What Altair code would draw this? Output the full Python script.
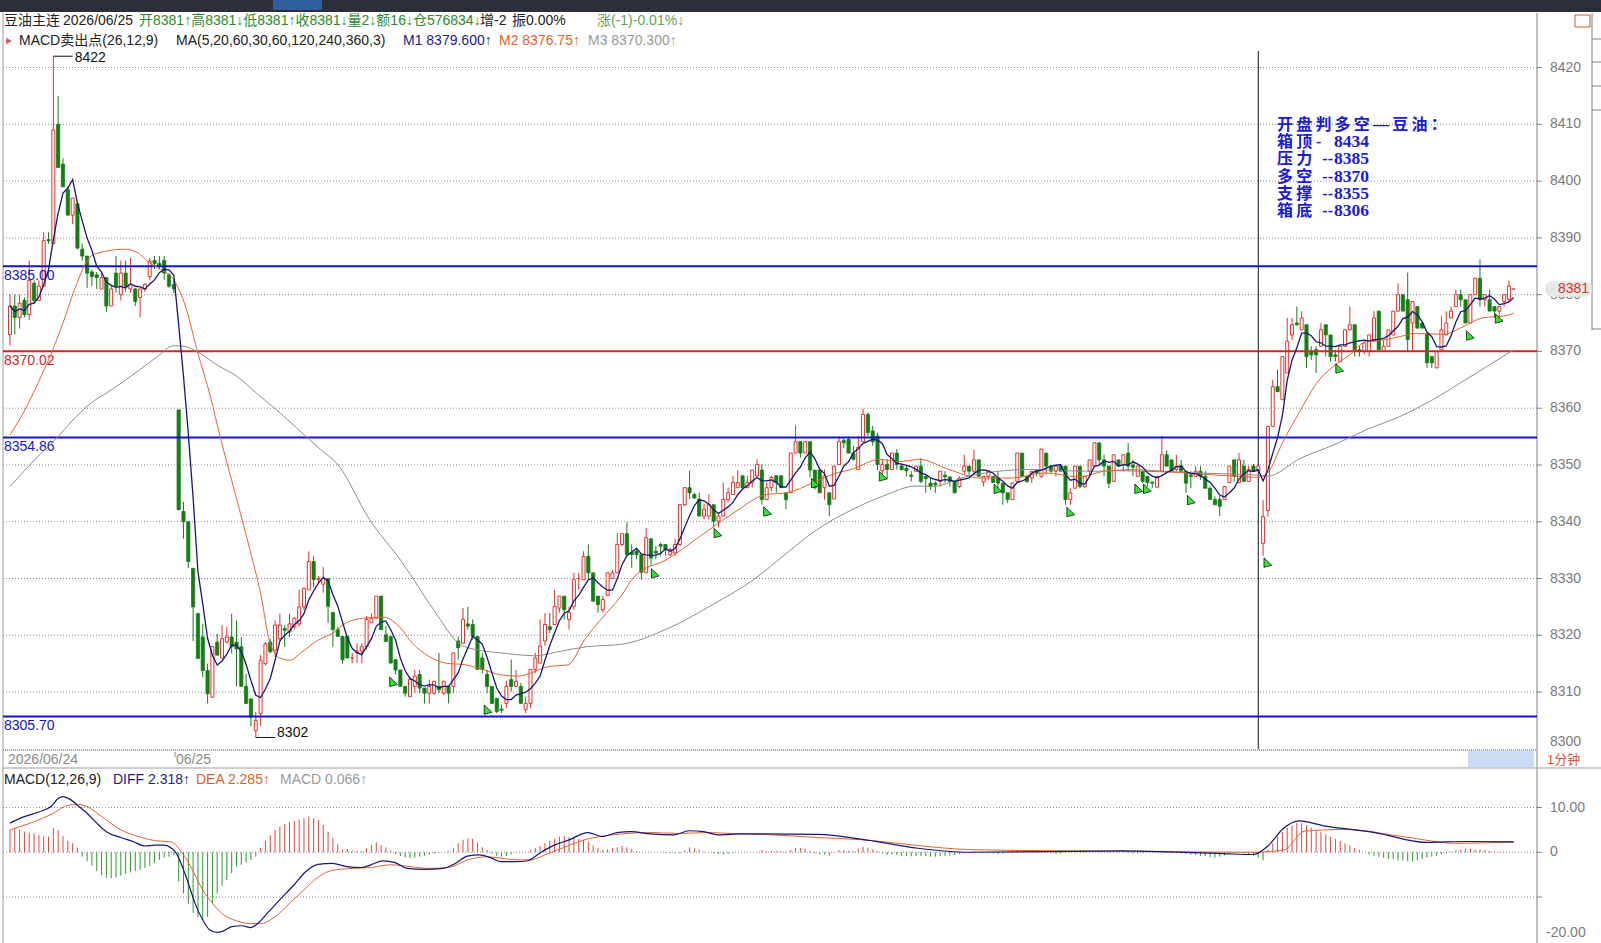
import altair as alt
import pandas as pd

SANS = "Liberation Sans, Noto Sans CJK SC"
SERIF = "Liberation Serif, Noto Sans CJK SC"
W, H = 1601, 943
RED = "#e5302a"
GREEN = "#157d15"

# ---------------- candle data (1-minute bars, index 0..312) ----------------
opens = [
    8373, 8378, 8376, 8379, 8376.5, 8382, 8379, 8381.5, 8389.7, 8389,
    8410, 8403, 8398.5, 8394, 8396, 8388, 8386.8, 8384, 8383.5, 8381,
    8383, 8378, 8383.8, 8380, 8383.8, 8381, 8381, 8379.5, 8381, 8383.2,
    8386, 8385.5, 8386, 8383.5, 8381.8, 8359.7, 8341.8, 8340, 8331.8, 8323.8,
    8319.7, 8313.8, 8309.1, 8318.8, 8316, 8318.8, 8319.7, 8318.8, 8318, 8311,
    8308.8, 8303.2, 8306.2, 8315, 8318.8, 8317.4, 8319.4, 8321.2, 8320.6, 8321.5,
    8322, 8325, 8328, 8333, 8329.8, 8329, 8330, 8324, 8321, 8319.8,
    8319.8, 8316, 8317, 8317.2, 8318, 8322.2, 8323, 8326.9, 8320.1, 8319.8,
    8315.7, 8313.9, 8311, 8309.2, 8311, 8313.1, 8310.7, 8309.8, 8309.8, 8311,
    8309.8, 8311, 8311, 8319, 8318.6, 8322, 8321.9, 8319.8, 8316, 8313.1,
    8311, 8308.9, 8307, 8308, 8312.2, 8311, 8311, 8306.9, 8308, 8314,
    8315.1, 8319, 8321.5, 8321.9, 8324.8, 8326.9, 8322.8, 8325.1, 8330, 8329.8,
    8333.9, 8331, 8326.9, 8324.5, 8327, 8330, 8331, 8336, 8337.9, 8334.6,
    8334.8, 8334.2, 8331, 8337, 8334.8, 8336, 8336, 8334.2, 8334.5, 8336,
    8343, 8346, 8344.8, 8344, 8341, 8341, 8343, 8340.1, 8341, 8343.9,
    8344.8, 8346, 8348.1, 8346, 8346.9, 8348.1, 8349.1, 8343.9, 8346, 8348.1,
    8348.1, 8345.1, 8345.1, 8352.1, 8354.1, 8352.1, 8354.1, 8349.1, 8349.1, 8346,
    8345.1, 8344, 8350.1, 8354.3, 8354.5, 8352.1, 8349.2, 8354.1, 8358.9, 8356,
    8355.1, 8349, 8350.1, 8349.2, 8352.1, 8349.8, 8349.4, 8348.2, 8348.9, 8349.8,
    8348, 8346.8, 8346.8, 8347.1, 8348.2, 8347.9, 8347.1, 8346.2, 8348.9, 8349.8,
    8348.9, 8350.9, 8347, 8348, 8348, 8347.7, 8346.8, 8345.1, 8343.9, 8347.1,
    8352.1, 8348, 8347.7, 8349, 8348, 8352.1, 8349.8, 8348.9, 8349.8, 8349.8,
    8343.9, 8345.9, 8349.8, 8346.2, 8348.9, 8349.8, 8353.9, 8350.9, 8349.8, 8347.1,
    8350.9, 8350.1, 8352.1, 8350, 8348, 8348.9, 8348, 8347, 8346.1, 8348.9,
    8351.8, 8350.9, 8349.2, 8349.8, 8348.9, 8348.2, 8348, 8348.9, 8348, 8345.9,
    8343.9, 8343.9, 8343.9, 8346.9, 8350.9, 8346.9, 8349.8, 8347.1, 8349.8, 8348.9,
    8336.2, 8342, 8356.8, 8363.8, 8361.5, 8366.2, 8372.9, 8375, 8373.8, 8374.7,
    8370, 8370.3, 8370.9, 8374.7, 8372.9, 8369.4, 8368.2, 8370.9, 8373.8, 8374.7,
    8370.3, 8370, 8370, 8371.8, 8377.1, 8370, 8370.9, 8372.9, 8377.1, 8380,
    8379.1, 8375, 8377.9, 8375, 8373.2, 8369.1, 8367.1, 8370.3, 8372.9, 8375.9,
    8377.9, 8380, 8379.1, 8375, 8380, 8382.9, 8379.1, 8379.1, 8377.9, 8377.1,
    8378.8, 8379.2, 8381,
]
highs = [
    8380, 8380, 8380, 8379.5, 8386, 8382.5, 8382.5, 8391, 8391, 8422,
    8415, 8404, 8399, 8397, 8396, 8389, 8386.8, 8384.4, 8384, 8383.8,
    8383, 8381.8, 8386.8, 8386, 8386, 8386.5, 8381.2, 8381, 8382, 8386.5,
    8386.8, 8386.8, 8386.8, 8383.8, 8382.6, 8359.7, 8343.5, 8340, 8331.8, 8324,
    8322, 8315, 8318, 8320.3, 8321.8, 8321.5, 8323.8, 8322.6, 8319.7, 8313.2,
    8308.8, 8306.5, 8316.5, 8318.8, 8319.4, 8322.6, 8323.8, 8321.8, 8323.8, 8323.2,
    8328, 8328.5, 8334.8, 8334, 8330.4, 8332, 8330, 8324, 8321.5, 8319.8,
    8319.8, 8316.9, 8318.6, 8318.6, 8323.4, 8323.9, 8326.9, 8326.9, 8321.6, 8319.8,
    8315.7, 8313.9, 8311, 8312.7, 8313.9, 8313.9, 8310.7, 8312.2, 8312, 8316.9,
    8312, 8311, 8316.9, 8319.8, 8324.8, 8325, 8322.8, 8319.8, 8316.9, 8313.9,
    8311, 8308.9, 8307.8, 8312, 8315.7, 8313.9, 8311.6, 8309.2, 8314, 8316.9,
    8322.8, 8323.9, 8323.9, 8328, 8326.9, 8326.9, 8325, 8331, 8331, 8334.8,
    8336, 8331, 8326.9, 8326.9, 8331, 8331.5, 8338, 8337.9, 8339.9, 8336,
    8335.4, 8334.2, 8338.9, 8337, 8335.7, 8336.3, 8336, 8335.4, 8337, 8343,
    8346, 8349, 8345.1, 8345.1, 8343.2, 8344.8, 8343, 8341.6, 8346.9, 8346,
    8348.1, 8349.1, 8348.1, 8348.1, 8349.1, 8351, 8350.1, 8346.9, 8348.1, 8348.1,
    8348.1, 8345.1, 8352.1, 8357, 8354.1, 8354.1, 8354.1, 8349.1, 8349.1, 8349.2,
    8345.1, 8349.8, 8355.1, 8354.8, 8355, 8353.4, 8355.1, 8359.9, 8359.2, 8356.9,
    8355.7, 8351, 8351, 8352.1, 8352.8, 8350, 8349.8, 8348.9, 8349.8, 8351.2,
    8348, 8347.7, 8347.1, 8348.9, 8348.9, 8348, 8347.1, 8348, 8351.8, 8349.8,
    8352.7, 8350.9, 8348, 8348.9, 8348, 8348.9, 8346.8, 8345.1, 8346.8, 8352.1,
    8352.1, 8348, 8348.9, 8349.2, 8352.8, 8352.1, 8350, 8349.8, 8349.8, 8349.8,
    8345.9, 8349.8, 8349.8, 8348, 8350.9, 8353.9, 8353.9, 8351.8, 8349.8, 8351.8,
    8350.9, 8351.8, 8353.9, 8350.9, 8349.8, 8348.9, 8348, 8347, 8348, 8355.1,
    8352.6, 8350.9, 8351.8, 8350.9, 8348.9, 8348.9, 8349.8, 8349.8, 8348.9, 8346.2,
    8344.5, 8344.5, 8346.2, 8349.8, 8350.9, 8352.1, 8350.9, 8349.8, 8350.2, 8350,
    8343.8, 8356.8, 8365, 8366.8, 8369.1, 8375.9, 8375.9, 8377.9, 8377.1, 8374.7,
    8370.9, 8370.9, 8375, 8374.7, 8372.9, 8370.3, 8370.9, 8373.8, 8377.9, 8374.7,
    8370.9, 8371.5, 8372.9, 8377.1, 8377.1, 8372, 8373.8, 8377.1, 8382, 8380,
    8383.9, 8378.8, 8377.9, 8375, 8373.2, 8369.1, 8370, 8376.2, 8377.1, 8377.9,
    8380.9, 8380.9, 8379.1, 8380, 8382.9, 8386.2, 8380, 8380.9, 8377.9, 8377.9,
    8380, 8382.5, 8381,
]
lows = [
    8371, 8373, 8374, 8376, 8375.5, 8378.5, 8379, 8381.5, 8389, 8389,
    8402.4, 8399, 8394, 8392.4, 8388, 8386, 8381.2, 8381.5, 8381, 8381,
    8377, 8378, 8380.3, 8379, 8380.5, 8380.3, 8378, 8376, 8380.5, 8382.6,
    8384.5, 8384.5, 8382.6, 8381.2, 8380.3, 8342.1, 8337, 8331.8, 8319, 8315.9,
    8312.6, 8308, 8309.1, 8316.5, 8316, 8318.5, 8316.8, 8311, 8311, 8308,
    8304, 8302, 8304, 8314.7, 8316.8, 8316.2, 8319.1, 8318, 8319.7, 8321,
    8321.5, 8324.4, 8328, 8328.4, 8329, 8327.5, 8322.2, 8318, 8319.8, 8315,
    8316, 8315.1, 8315.1, 8315.1, 8317.5, 8322.2, 8323, 8321, 8318.9, 8315.1,
    8313.1, 8311, 8309.2, 8309.2, 8309.8, 8309.8, 8308, 8308, 8309.5, 8309.8,
    8309.5, 8308, 8309.8, 8315.7, 8318.6, 8321, 8319.2, 8314, 8313.3, 8309.8,
    8308, 8306.3, 8306.3, 8307.2, 8310.1, 8311, 8308, 8306.3, 8307.2, 8313.3,
    8315.1, 8318.1, 8320.4, 8321.9, 8324, 8322.8, 8321, 8324.5, 8328, 8329.8,
    8329.8, 8326, 8324, 8324, 8326.9, 8330, 8331, 8335.7, 8334, 8331.9,
    8333.4, 8329.8, 8331, 8332.2, 8333.4, 8334, 8334, 8334, 8334, 8335.7,
    8342.8, 8344, 8344, 8341, 8340.4, 8340.4, 8339, 8339, 8341, 8343.4,
    8344.8, 8346, 8346, 8346, 8346, 8347.8, 8343, 8343.9, 8345.4, 8345.1,
    8346, 8342.2, 8345.1, 8352.1, 8351.3, 8352.1, 8347.8, 8345.7, 8345.1, 8343.9,
    8341, 8344, 8350.1, 8353, 8352.1, 8350.8, 8349.2, 8354.1, 8355.1, 8353.4,
    8349.1, 8348.1, 8347.5, 8349.2, 8349.2, 8349, 8348, 8347.1, 8348.9, 8346.8,
    8345.1, 8345.6, 8345.1, 8346.2, 8346.8, 8346.2, 8345.1, 8345.9, 8348.3, 8348,
    8348.6, 8348, 8346.2, 8347.4, 8346.8, 8345.9, 8343, 8343.3, 8343.9, 8347.1,
    8348, 8346.8, 8346.8, 8348, 8347.7, 8348.3, 8348.6, 8348, 8348.9, 8343,
    8343, 8345.9, 8345.9, 8345.9, 8348, 8349.8, 8349.8, 8348, 8345.9, 8347.1,
    8349.8, 8348.9, 8348.9, 8348, 8348, 8346.8, 8346.2, 8345.9, 8345.9, 8348.9,
    8349.8, 8348.9, 8348.9, 8348.9, 8345.1, 8345.9, 8348, 8347.4, 8345.9, 8343.9,
    8343, 8341, 8343.9, 8346.9, 8347.1, 8346.9, 8347.1, 8347.1, 8348.9, 8348.9,
    8334, 8340.9, 8356.8, 8362.9, 8361.5, 8366.2, 8372, 8374.5, 8373.8, 8367.1,
    8368.5, 8366.2, 8370.9, 8369.1, 8368.2, 8368.2, 8368.2, 8370.9, 8373.8, 8369.1,
    8369.1, 8369.5, 8369.1, 8371.8, 8370.3, 8370, 8370.9, 8372.9, 8377.1, 8377.1,
    8370, 8370, 8374.1, 8374.1, 8367.1, 8367.1, 8367.1, 8370.3, 8372.9, 8375.9,
    8377.9, 8377.9, 8375, 8375, 8380, 8377.9, 8377.9, 8377.1, 8375.9, 8375,
    8377.9, 8378.8, 8381,
]
closes = [
    8378, 8376, 8378.5, 8376.5, 8382.5, 8379, 8381.5, 8389.5, 8389.5, 8409,
    8402.4, 8399, 8394, 8397, 8388.2, 8386.8, 8383.8, 8383.2, 8383, 8383,
    8378, 8381, 8381.5, 8383.8, 8381.5, 8381.8, 8378.8, 8381, 8381.8, 8385.9,
    8385.5, 8385.2, 8383.8, 8381.5, 8381, 8342.1, 8340, 8333, 8325, 8315.9,
    8313.8, 8309.7, 8318, 8316.5, 8319.4, 8319.7, 8318, 8317.6, 8311, 8308,
    8305.6, 8305, 8315.6, 8318.5, 8317.1, 8321.8, 8321.8, 8320.9, 8322, 8323,
    8325, 8328.2, 8333, 8329.8, 8330, 8330, 8325.1, 8321, 8319.8, 8315.7,
    8316, 8316, 8317.2, 8318, 8322.8, 8323, 8326.9, 8321, 8318.9, 8315.1,
    8313.9, 8311, 8309.8, 8312.2, 8312.8, 8310.7, 8309.8, 8311, 8311.9, 8310.4,
    8311.9, 8309.8, 8316.9, 8317.8, 8322.8, 8321.6, 8319.8, 8314, 8314, 8311,
    8308, 8306.6, 8306.8, 8311, 8311, 8311.9, 8308, 8308, 8314, 8316,
    8318.1, 8321.9, 8321, 8325.1, 8326.9, 8324.5, 8324, 8329.8, 8330, 8333.9,
    8331, 8326, 8325.4, 8326.3, 8331, 8331, 8336, 8337.9, 8334.2, 8334.2,
    8334.2, 8331.1, 8337.2, 8333.6, 8334.5, 8335.7, 8335.1, 8335.1, 8336, 8343,
    8346, 8345.1, 8344.2, 8341, 8342.2, 8343, 8340.1, 8341, 8343.9, 8345.1,
    8346.9, 8346.9, 8346, 8346.9, 8349.1, 8350.1, 8343.9, 8346, 8347.8, 8346.9,
    8346, 8343.9, 8352.1, 8354.1, 8352.1, 8354.1, 8349.1, 8346, 8345.1, 8348.1,
    8343, 8349.8, 8354.1, 8353.9, 8352.1, 8351, 8353.1, 8358.9, 8355.7, 8354.1,
    8350.1, 8350.1, 8349.2, 8352.1, 8350.1, 8349.2, 8349, 8348, 8349.8, 8347.1,
    8347.6, 8346.2, 8346.5, 8348.9, 8347.9, 8347.1, 8345.1, 8347.7, 8349.8, 8348.9,
    8350.9, 8348, 8348, 8348.9, 8346.9, 8346.8, 8345.1, 8343.9, 8346.8, 8352.1,
    8348, 8347.1, 8348.9, 8348.6, 8352.8, 8349.8, 8348.9, 8349.8, 8348.9, 8343.9,
    8345.1, 8349.8, 8346.2, 8348, 8350.9, 8353.9, 8350.9, 8349.8, 8346.8, 8351.8,
    8349.8, 8351.8, 8349.8, 8349.6, 8349.8, 8347.1, 8346.9, 8346.8, 8348, 8351.8,
    8349.8, 8348.9, 8349.8, 8348.9, 8346.8, 8348, 8348.9, 8348, 8345.9, 8343.9,
    8343, 8342.7, 8346.2, 8349.8, 8348, 8350.9, 8347.1, 8349.2, 8348.9, 8349.8,
    8340.9, 8356.8, 8363.8, 8362.9, 8369.1, 8371.8, 8374.7, 8374.7, 8375.9, 8369.1,
    8369.4, 8369.4, 8373.8, 8372.9, 8369.1, 8369.1, 8370.9, 8373.8, 8374.7, 8370,
    8370, 8371.5, 8372.9, 8375.9, 8370.3, 8370.9, 8373.8, 8377.1, 8380, 8377.1,
    8372.1, 8378.8, 8374.1, 8374.1, 8368, 8368, 8370, 8373.8, 8375, 8377.1,
    8380, 8379.1, 8375, 8380, 8382.9, 8379.1, 8380, 8377.1, 8377.1, 8377.9,
    8380, 8381.5, 8381,
]

# moving averages (bar index, value)
ma20_k = [0, 3.1, 5.8, 8.6, 11, 13.4, 16.8, 19.6, 23.7, 26.5, 28.5, 31.3, 34, 36.4, 38.8,
          41.6, 43.6, 47.1, 49.8, 52, 54, 56, 58, 60.8, 63.6, 67, 69.8, 73.2, 77.3, 80.7,
          83.5, 86.9, 90.4, 94.5, 98, 102, 105.5, 108.2, 111.7, 115.8, 119.2, 122.6, 126.8,
          129.6, 136.4, 143.3, 150.2, 157, 161.2, 166.7, 170.8, 174.9, 180.4, 184.5, 188.7,
          194.8, 201.4, 208, 214.8, 221.6, 228.2, 235.1, 242, 248.8, 256.7, 258.9, 260.8,
          264.3, 267.8, 271.1, 274.6, 278, 281.4, 284.9, 288.3, 291.8, 297.3, 301.4, 305.5,
          310.3, 312]
ma20_v = [8355.3, 8359.7, 8364.4, 8369.7, 8375, 8380.9, 8386.8, 8387.6, 8388, 8387.4, 8385.9,
          8384.4, 8382.6, 8378, 8370.3, 8362, 8355, 8343.8, 8335, 8327.4, 8318.5, 8316,
          8315.6, 8317.2, 8319, 8320.4, 8322.2, 8323, 8323.2, 8321.6, 8318.6, 8316.3, 8315.1,
          8314.8, 8314, 8313, 8312.8, 8313.4, 8314.5, 8314.8, 8319.2, 8322.8, 8326.9, 8330.4,
          8333.4, 8337.5, 8341.6, 8344.8, 8345.1, 8346.9, 8348.4, 8349.3, 8351, 8350.6, 8351,
          8349.2, 8347.7, 8347.7, 8348.6, 8347.9, 8349, 8348.9, 8348.7, 8348.3, 8347.9,
          8347.8, 8348.5, 8354.4, 8359.7, 8364.4, 8367.4, 8369.4, 8371.8, 8372, 8372.6,
          8373.2, 8373, 8374.3, 8375.9, 8376.3, 8376.75]
ma60_k = [0, 5.8, 10, 12.7, 16.8, 21, 26.5, 30.6, 34, 36.1, 38.8, 43, 47.1, 51.2, 55.3, 59.5,
          64.9, 67.7, 74.6, 81.4, 88.3, 93.1, 96.5, 102, 108.9, 114.3, 119.8, 126.8, 136, 146,
          154.3, 161.2, 167.4, 174.9, 181.1, 188, 191.4, 198.3, 205.1, 212, 218.8, 225.8,
          232.6, 239.5, 246.4, 253.2, 258.8, 260.8, 267.8, 274.6, 281.4, 288.3, 295.2, 302,
          310.3, 312]
ma60_v = [8346.2, 8351.5, 8355, 8357.6, 8360.9, 8363.2, 8366.5, 8369.1, 8371, 8370.9, 8370,
          8367.6, 8365.6, 8362.6, 8359.7, 8356.5, 8352.4, 8350.4, 8340.4, 8332.8, 8324,
          8318.6, 8317.5, 8316.9, 8316.4, 8317.2, 8318, 8318.4, 8321, 8325.5, 8329.8, 8334.5,
          8338.6, 8342.2, 8344.5, 8346.3, 8346.2, 8347.9, 8348.9, 8349.2, 8349, 8348.9,
          8349.2, 8348.9, 8348.6, 8348.4, 8348.2, 8348, 8351.2, 8353.5, 8356.2, 8358.5,
          8361.5, 8365, 8369.4, 8370.3]

# sell-point markers (bar index, price)
mark_k = [79.4, 99, 133.7, 146.7, 157, 166.9, 181, 204.8, 219.9, 234, 235.8, 244.9, 260.8,
          275.7, 302.8, 308.8]
mark_p = [8311.6, 8306.7, 8330.7, 8337.8, 8341.6, 8346.6, 8347.8, 8345.6, 8341.5, 8345.6,
          8345.6, 8343.6, 8332.6, 8366.8, 8372.6, 8375.6]

# horizontal levels
level_v = [8385.00, 8370.02, 8354.86, 8305.70]
level_txt = ["8385.00", "8370.02", "8354.86", "8305.70"]
level_col = ["#1414c8", "#d42424", "#1414c8", "#1414c8"]

price_ticks = [8310, 8320, 8330, 8340, 8350, 8360, 8370, 8380, 8390, 8400, 8410, 8420]
session_break = [259]

# annotation block (label, dash, number)
note_title = "开盘判多空—豆油："
note_label = ["箱顶", "压力", "多空", "支撑", "箱底"]
note_dash = ["-", "--", "--", "--", "--"]
note_num = ["8434", "8385", "8370", "8355", "8306"]

# MACD panel
diff_k = [0, 3, 6, 8.5, 10, 11, 12.5, 14, 16, 18, 20, 23, 25.5, 28, 30, 32, 33.5, 34.5, 35.5,
          37, 38.4, 40, 41.4, 43, 44.4, 46, 48, 50, 51.4, 53.4, 55.9, 58.9, 61.4, 63.9, 66.9,
          69.9, 72.9, 74.9, 77.4, 79.9, 82.4, 85.9, 89.9, 92.4, 94.9, 97.4, 99.9, 101.9, 104.9,
          107.4, 109.9, 112.9, 115.9, 119.9, 122.9, 125.9, 128.9, 132.9, 137.9, 140.9, 143.9,
          146.9, 151.9, 155.7, 167.4, 177.9, 188.4, 199, 230.5, 251.6, 258, 261, 264.2, 267.4,
          272.6, 283.2, 293.7, 302.1, 312]
diff_v = [6.5, 7.95, 9.0, 10.2, 12.0, 12.4, 11.8, 10.5, 8.7, 6.5, 4.6, 3.3, 2.4, 1.4, 1.6, 1.6,
          0.9, -0.2, -2.5, -6.9, -11.4, -15.1, -17.3, -17.9, -17.5, -16.6, -16.4, -16.8, -15.9,
          -13.6, -10.7, -7.3, -4.3, -2.7, -2.5, -3.2, -3.4, -2.8, -1.9, -2.3, -3.6, -3.8, -3.6,
          -2.5, -0.85, -0.6, -1.3, -2.1, -2.1, -1.9, -0.2, 1.6, 2.7, 4.4, 3.5, 4.4, 4.6, 4.1,
          3.9, 4.8, 4.6, 3.9, 4.1, 4.1, 4.0, 2.7, 0.9, 0, 0.3, -0.3, -0.5, 1.4, 5.3, 7.0, 5.9,
          4.4, 2.2, 2.4, 2.318]
dea_k = [0, 5, 9, 12, 14, 16, 19, 23, 27, 30, 33.5, 35, 37.5, 40, 42, 44.4, 47, 50, 52, 55, 58,
         61, 64, 67, 71, 75, 79, 83, 87, 91, 95, 99, 104, 108, 111, 115, 119, 123, 127, 133,
         139, 145, 151, 155.7, 167.4, 178, 188.4, 199, 230, 258, 264.3, 268.6, 277, 289.6,
         300, 312]
dea_v = [5.0, 6.8, 8.7, 10.5, 10.7, 10.2, 8.0, 5.0, 3.4, 2.6, 2.3, 0.9, -3.2, -8.4, -11.4,
         -14, -15.3, -15.9, -15.9, -14.4, -11.4, -8.4, -5.5, -4.0, -3.6, -3.4, -2.8, -3.2,
         -3.6, -3.4, -1.7, -1.0, -1.6, -1.7, -0.6, 1.1, 2.7, 3.6, 4.1, 4.4, 4.2, 4.4, 4.1,
         4.0, 3.3, 2.7, 1.5, 0.6, 0.2, 0, 0.5, 4.7, 5.1, 3.4, 2.0, 2.285]
macd_hist = [
    5.0, 5.4, 5.0, 4.6, 4.4, 4.2, 3.8, 3.6, 3.5, 5.5, 5.0, 3.6, 2.6, 2.0, 1.0,
    -1, -2, -3, -4.2, -5.1, -5.7, -5.8, -5.6, -5.2, -4.8, -4.5, -4.2, -3.9, -3.5, -3.0, -2.4,
    -1.7, -1.2, -1.0, -0.6,
    -6.5, -9.2, -11.5, -13.5, -14.5, -15.1, -14.4, -11.4, -9.2, -7.5, -6.2, -4.7, -3.2, -2.8,
    -2.3, -1.7, -1.0,
    0.9, 2.5, 3.8, 5, 5.7, 6.3, 6.7, 7.0, 7.3, 7.6, 8.0, 7.6, 7.2, 6.1, 4.6, 3.2, 1.8,
    0.6, 0.7, 0.4, 0.3, 0.3, 0.9, 1.6, 2.2, 1.6, 1.1, 0.4,
    -0.4, -0.8, -1.2, -1.3, -1.2, -1.0, -0.8, -0.5, -0.3, -0.1, 0, 0.2,
    0.9, 2.0, 2.8, 3.1, 3.0, 2.2, 1.1, 0.5,
    -0.3, -0.8, -1.0, -0.8, -0.5, -0.2, 0, 0.1,
    0.4, 0.9, 1.4, 2.0, 2.6, 3.0, 3.5, 3.6, 3.4, 3.2, 3.0, 2.8, 2.4, 1.5, 0.9,
    0.5, 0.7, 0.9, 1.1, 1.4, 1.1, 0.7, 0.3, 0,
    0, 0, 0, 0, -0.1, -0.2, -0.3, -0.2, 0.4, 1.1, 0.9, 0.6, 0.2, 0, -0.2, -0.4, -0.5, -0.4,
    -0.2, 0, 0, 0, 0, 0,
    0.5, 0.2, 0.3, 0.3, 0.2, -0.2, 0.5, 1, 1, 0.8, 0.3, -0.2, -0.5, -0.5, -0.8, 0, 0.5, 0.5,
    0.3, 0.2,
    0.8, 1.2, 1.0, 0.6, 0.2, -0.3, -0.6, -0.5, -0.6, -0.8, -0.8, -0.9,
    -0.8, -0.8, -0.9, -1.0, -1.0, -0.9, -0.8, -0.7, -0.6, -0.4, -0.2, 0.0,
    0.2, 0.1, -0.1, -0.2, -0.3, -0.4, -0.3, 0.1, 0.4, 0.3, 0.1, 0.2,
    0.4, 0.3, 0.1, 0.0, -0.3, -0.4, -0.3, -0.1, 0.1, 0.3, 0.5, 0.4,
    0.2, 0.0, -0.1, 0.1, 0.3, 0.2, 0.1, -0.1, -0.2, -0.3, -0.3, -0.2,
    0.1, 0.3, 0.2, 0.0, -0.1, -0.2, -0.2, -0.3, -0.4, -0.5, -0.6, -0.8,
    -0.9, -1.1, -1.2, -1.0, -0.7, -0.4, -0.2, -0.1, -0.3, -0.5, -0.8, -1.2,
    -1.8, 0.5, 2, 3.5, 4.5, 5.5, 6, 6.5, 6.5, 6, 5.5, 5, 4.5, 4, 3.5, 3,
    2.5, 2, 1.5, 1, 0.5, 0, -0.5, -0.8, -1, -1.2, -1.5, -1.6, -1.8, -1.8, -2, -2, -1.8, -1.5,
    -1.2, -1, -0.8, -0.5, -0.2, 0.2, 0.4,
    0.6, 0.8, 0.8, 0.6, 0.6, 0.5, 0.3, 0.2, 0.1, 0.1, 0.05, 0.066,
]
macd_ticks = [-10, 0, 10]

# ---------------- frames ----------------
candles = pd.DataFrame({"k": range(len(closes)), "o": opens, "h": highs, "l": lows, "c": closes})
hist_df = pd.DataFrame({"k": range(len(macd_hist)), "m": macd_hist})

xs = alt.Scale(domain=[-1.031, 329.07], nice=False, zero=False)
ps = alt.Scale(domain=[8265.8, 8431.9], nice=False, zero=False)
ms = alt.Scale(domain=[-20.25, 190.2], nice=False, zero=False)


def X(f):
    return alt.X(f, type="quantitative", scale=xs, axis=None)


def PY(f):
    return alt.Y(f, type="quantitative", scale=ps, axis=None)


def MY(f):
    return alt.Y(f, type="quantitative", scale=ms, axis=None)


ONE = pd.DataFrame({"a": [0]})


def rect(x, x2, y, y2, fill, stroke=None, sw=0, r=0):
    kw = dict(fill=fill, cornerRadius=r)
    if stroke:
        kw.update(stroke=stroke, strokeWidth=sw)
    return alt.Chart(ONE).mark_rect(**kw).encode(
        x=alt.value(x), x2=alt.value(x2), y=alt.value(y), y2=alt.value(y2))


def vline(x, y, y2, color, sw=1, dash=None):
    kw = dict(color=color, strokeWidth=sw)
    if dash:
        kw["strokeDash"] = dash
    return alt.Chart(ONE).mark_rule(**kw).encode(x=alt.value(x), y=alt.value(y), y2=alt.value(y2))


def hline(x, x2, y, color, sw=1, dash=None):
    kw = dict(color=color, strokeWidth=sw)
    if dash:
        kw["strokeDash"] = dash
    return alt.Chart(ONE).mark_rule(**kw).encode(x=alt.value(x), x2=alt.value(x2), y=alt.value(y))


def txt(s, x, y, color, size=14, font=SANS, align="left", baseline="middle", weight="normal"):
    return alt.Chart(pd.DataFrame({"t": [s]})).mark_text(
        align=align, baseline=baseline, font=font, fontSize=size, color=color,
        fontWeight=weight).encode(x=alt.value(x), y=alt.value(y), text="t:N")


layers = []
# top toolbar band
layers.append(rect(0, W, 0, 12, "#2c2f37"))
layers.append(rect(273, 322, 0, 10, "#2f5f9f"))
layers.append(rect(1575, 1590, 15, 27, "white", "#d05a2a", 1))

# header texts
layers += [
    txt("豆油主连", 4, 21, "#222222"),
    txt("2026/06/25", 63, 21, "#222222"),
    txt("开8381↑高8381↓低8381↑收8381↓量2↓额16↓仓576834↓", 139, 21, "#2c8a2c"),
    txt("增-2", 480, 21, "#222222"),
    txt("振0.00%", 512, 21, "#222222"),
    txt("涨(-1)-0.01%↓", 597, 21, "#5fa25f"),
    txt("MACD卖出点(26,12,9)", 19, 41, "#222222"),
    txt("MA(5,20,60,30,60,120,240,360,3)", 176, 41, "#222222"),
    txt("M1 8379.600↑", 403, 41, "#1c1c8c"),
    txt("M2 8376.75↑", 499, 41, "#e0602a"),
    txt("M3 8370.300↑", 588, 41, "#999999"),
]
layers.append(alt.Chart(ONE).mark_point(shape="triangle-right", filled=True, color="#cc1111", size=45)
              .encode(x=alt.value(9), y=alt.value(41)))

# frame lines
layers.append(vline(3, 13, H, "#9a9a9a"))
layers.append(vline(1537, 13, H, "#808080"))
layers.append(vline(1592, 13, 330, "#808080"))
for yy in [39, 62, 86, 110, 329]:
    layers.append(hline(1592, W, yy, "#808080"))

# price grid
grid_df = pd.DataFrame({"v": price_ticks})
layers.append(alt.Chart(grid_df).mark_rule(color="#8a8a8a", strokeWidth=1, strokeDash=[1, 2]).encode(
    x=alt.value(3), x2=alt.value(1537), y=PY("v")))
layers.append(alt.Chart(grid_df).mark_rule(color="#808080", strokeWidth=1).encode(
    x=alt.value(1537), x2=alt.value(1542), y=PY("v")))
layers.append(alt.Chart(grid_df).mark_text(align="left", baseline="middle", font=SANS, fontSize=14,
                                            color="#7a7a7a").encode(
    x=alt.value(1550), y=PY("v"), text=alt.Text("v:Q", format="d")))
layers.append(txt("8300", 1550, 742, "#7a7a7a"))

# session separator
layers.append(alt.Chart(pd.DataFrame({"k": session_break})).mark_rule(color="#111111", strokeWidth=1).encode(
    x=X("k"), y=alt.value(51), y2=alt.value(749)))

# candles
layers.append(alt.Chart(candles).mark_rule(strokeWidth=1).encode(
    x=X("k"), y=PY("l"), y2="h:Q",
    color=alt.condition("datum.c >= datum.o", alt.value(RED), alt.value(GREEN))))
layers.append(alt.Chart(candles).transform_filter("datum.c >= datum.o").mark_bar(
    size=3, fill="white", stroke=RED, strokeWidth=1).encode(x=X("k"), y=PY("o"), y2="c:Q"))
layers.append(alt.Chart(candles).transform_filter("datum.c < datum.o").mark_bar(
    size=3.2, fill=GREEN, stroke=GREEN, strokeWidth=0.8).encode(x=X("k"), y=PY("o"), y2="c:Q"))

# level lines and labels
lev_df = pd.DataFrame({"v": level_v, "t": level_txt, "col": level_col})
layers.append(alt.Chart(lev_df).mark_rule(strokeWidth=2).encode(
    x=alt.value(3), x2=alt.value(1537), y=PY("v"), color=alt.Color("col:N", scale=None)))
layers.append(alt.Chart(lev_df).mark_text(align="left", baseline="middle", dy=10, font=SANS,
                                           fontSize=14).encode(
    x=alt.value(4), y=PY("v"), text="t:N", color=alt.Color("col:N", scale=None)))

# moving averages
layers.append(alt.Chart(pd.DataFrame({"k": ma60_k, "v": ma60_v})).mark_line(
    color="#8c8c8c", strokeWidth=1, interpolate="monotone").encode(x=X("k"), y=PY("v")))
layers.append(alt.Chart(pd.DataFrame({"k": ma20_k, "v": ma20_v})).mark_line(
    color="#e2642e", strokeWidth=1, interpolate="monotone").encode(x=X("k"), y=PY("v")))
layers.append(alt.Chart(candles).transform_window(
    ma5="mean(c)", frame=[-4, 0], sort=[alt.SortField("k")]).mark_line(
    color="#161678", strokeWidth=1.3).encode(x=X("k"), y=PY("ma5:Q")))

# sell-point markers
mk_df = pd.DataFrame({"k": mark_k, "p": mark_p})
layers.append(alt.Chart(mk_df).mark_point(
    shape="M -0.5 -1 L 0.8 0.25 L -0.5 0.6 Z", filled=True, fill="#2fe62f", stroke="#111111",
    strokeWidth=0.8, size=140, opacity=1).encode(x=X("k"), y=PY("p")))

# extremes
ext_df = pd.DataFrame({"k": [9, 51], "p": [8422, 8302], "t": ["8422", "8302"]})
layers.append(alt.Chart(ext_df).transform_calculate(k2="datum.k + 4").mark_rule(
    color="#111111", strokeWidth=1).encode(x=X("k"), x2="k2:Q", y=PY("p")))
layers.append(alt.Chart(ext_df.iloc[[0]]).transform_calculate(k2="datum.k + 4").mark_text(
    align="left", baseline="middle", dx=2, dy=1.5, font=SANS, fontSize=14, color="#111111").encode(
    x=X("k2:Q"), y=PY("p"), text="t:N"))
layers.append(alt.Chart(ext_df.iloc[[1]]).transform_calculate(k2="datum.k + 4").mark_text(
    align="left", baseline="middle", dx=2, dy=-4, font=SANS, fontSize=14, color="#111111").encode(
    x=X("k2:Q"), y=PY("p"), text="t:N"))

# current price tag
cur_df = pd.DataFrame({"p": [closes[-1]], "t": ["8381"]})
layers.append(alt.Chart(cur_df).transform_calculate(a="datum.p + 1.35", b="datum.p - 1.35").mark_rect(
    fill="#e4e9e4", cornerRadius=7).encode(x=alt.value(1545), x2=alt.value(1592), y=PY("a:Q"), y2="b:Q"))
layers.append(alt.Chart(cur_df).mark_text(align="left", baseline="middle", font=SANS, fontSize=14,
                                           color="#e03030").encode(x=alt.value(1558), y=PY("p"), text="t:N"))

# annotation text block
TS = "\u2009"
NOTE_C = "#1a1ad0"
layers.append(txt(TS.join(note_title), 1277, 125, NOTE_C, size=16, font=SERIF, weight="bold"))
for i in range(len(note_label)):
    yy = 125 + (i + 1) * 17.2
    layers.append(txt(TS.join(note_label[i]), 1277, yy, NOTE_C, size=16, font=SERIF, weight="bold"))
    if len(note_dash[i]) == 1:
        layers.append(txt(note_dash[i], 1316, yy, NOTE_C, size=16, font=SERIF, weight="bold"))
    else:
        layers.append(txt(note_dash[i], 1333, yy, NOTE_C, size=16, font=SERIF, weight="bold",
                          align="right"))
    layers.append(txt(note_num[i], 1334, yy, NOTE_C, size=17.5, font=SERIF, weight="bold"))

# date row
layers.append(hline(3, 1537, 750, "#a0a0a0", 2, [1, 1]))
layers.append(hline(3, W, 768, "#9a9a9a", 1))
layers.append(vline(175, 752, 757, "#888888"))
layers.append(txt("2026/06/24", 8, 760, "#8a8a8a"))
layers.append(txt("06/25", 176, 760, "#8a8a8a"))
layers.append(rect(1468, 1534, 751, 767, "#c8ddf5"))
layers.append(txt("1分钟", 1547, 760, "#e0502a", size=13))

# MACD panel
mgrid = pd.DataFrame({"v": macd_ticks})
layers.append(alt.Chart(mgrid).mark_rule(color="#8a8a8a", strokeWidth=1, strokeDash=[1, 2]).encode(
    x=alt.value(3), x2=alt.value(1537), y=MY("v")))
layers.append(alt.Chart(mgrid).mark_rule(color="#808080", strokeWidth=1).encode(
    x=alt.value(1537), x2=alt.value(1542), y=MY("v")))
layers.append(txt("10.00", 1550, 808, "#7a7a7a"))
layers.append(txt("0", 1550, 852, "#7a7a7a"))
layers.append(txt("-20.00", 1546, 933, "#7a7a7a"))
layers.append(alt.Chart(hist_df).transform_calculate(z="0").mark_rule(strokeWidth=1).encode(
    x=X("k"), y=MY("m"), y2="z:Q",
    color=alt.condition("datum.m >= 0", alt.value("#e2453c"), alt.value("#2a9a2a"))))
layers.append(alt.Chart(pd.DataFrame({"k": dea_k, "v": dea_v})).mark_line(
    color="#e2642e", strokeWidth=1, interpolate="monotone").encode(x=X("k"), y=MY("v")))
layers.append(alt.Chart(pd.DataFrame({"k": diff_k, "v": diff_v})).mark_line(
    color="#161678", strokeWidth=1.2, interpolate="monotone").encode(x=X("k"), y=MY("v")))
layers += [
    txt("MACD(12,26,9)", 4, 780, "#222222"),
    txt("DIFF 2.318↑", 113, 780, "#1c1c8c"),
    txt("DEA 2.285↑", 196, 780, "#e0602a"),
    txt("MACD 0.066↑", 280, 780, "#999999"),
]

chart = alt.layer(*layers).properties(
    width=W, height=H, autosize=alt.AutoSizeParams(type="none"), padding=0, background="white"
).resolve_scale(y="independent").configure_view(stroke=None)

chart.save("out.html", embed_options={"renderer": "svg", "actions": False})
